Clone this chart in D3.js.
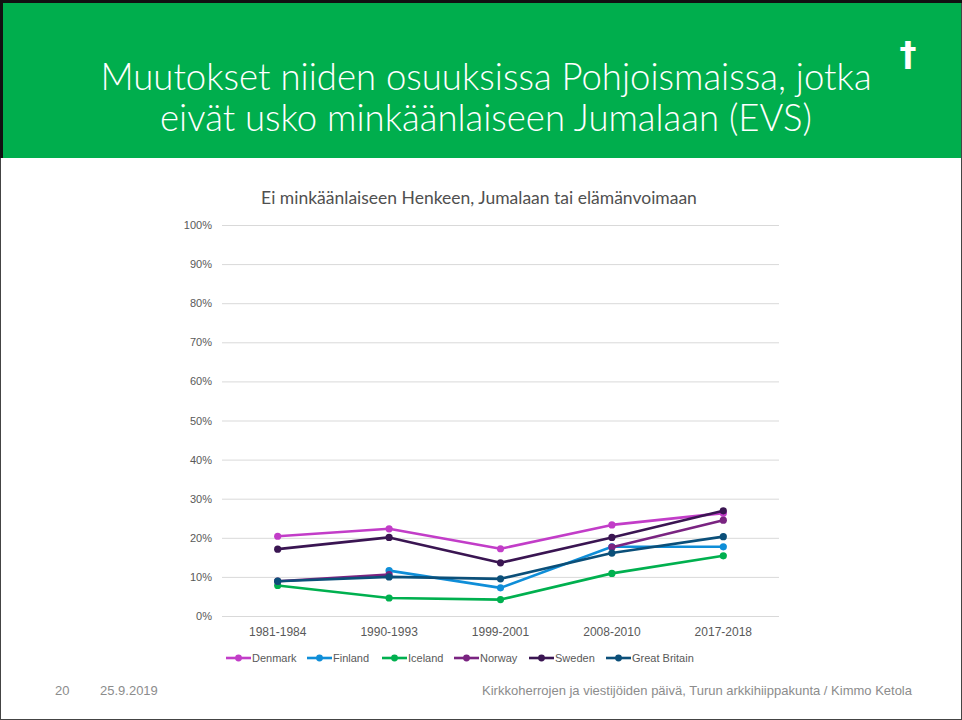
<script src="https://d3js.org/d3.v7.min.js"></script>

<style>
  body { margin: 0; background: #fff; }
  svg text { font-family: Lato, "Open Sans", sans-serif; }
</style>

<body>
<div id="vis"></div>

<script>
  // Survey waves and series values (% who believe in no God / spirit / life force)
  const waves = ['1981-1984', '1990-1993', '1999-2001', '2008-2010', '2017-2018']
  const countries = ['Denmark', 'Finland', 'Iceland', 'Norway', 'Sweden', 'Great Britain']
  const denmark = [20.4, 22.3, 17.2, 23.3, 26.3]
  const finland = [null, 11.6, 7.2, 17.7, 17.7]
  const iceland = [7.8, 4.6, 4.2, 10.9, 15.4]
  const norway = [8.9, 10.6, null, 17.6, 24.5]
  const sweden = [17.1, 20.1, 13.6, 20.1, 26.9]
  const britain = [8.9, 10.0, 9.5, 16.1, 20.3]
  const colors = ['#c23dc8', '#0f8ed8', '#00b04f', '#7a2481', '#3a1552', '#0b4f79']
  const yTicks = [0, 10, 20, 30, 40, 50, 60, 70, 80, 90, 100]

  const allSeries = [denmark, finland, iceland, norway, sweden, britain]

  const W = 962, H = 720
  const svg = d3.select('#vis').append('svg')
    .attr('width', W)
    .attr('height', H)

  // slide frame
  svg.append('rect')
    .attr('x', 0.5).attr('y', 0.5)
    .attr('width', W - 1).attr('height', H - 1)
    .attr('fill', '#fff')
    .attr('stroke', '#444')

  // green header
  svg.append('rect')
    .attr('x', 3).attr('y', 3)
    .attr('width', W - 4).attr('height', 155)
    .attr('fill', '#00ae4d')
  svg.append('line')
    .attr('x1', 0).attr('x2', W).attr('y1', 1.5).attr('y2', 1.5)
    .attr('stroke', '#111').attr('stroke-width', 3)
  svg.append('line')
    .attr('x1', 1.5).attr('x2', 1.5).attr('y1', 0).attr('y2', 158)
    .attr('stroke', '#111').attr('stroke-width', 3)

  const titleLines = ['Muutokset niiden osuuksissa Pohjoismaissa, jotka', 'eivät usko minkäänlaiseen Jumalaan (EVS)']
  svg.selectAll('.title')
    .data(titleLines)
    .enter()
    .append('text')
    .attr('class', 'title')
    .attr('x', 486)
    .attr('y', function(d, i) { return 90 + i * 41 })
    .attr('text-anchor', 'middle')
    .attr('fill', '#fff')
    .style('font-size', '36.5px')
    .style('font-weight', 300)
    .text(function(d) { return d })

  // cross
  svg.append('text')
    .attr('x', 908).attr('y', 66)
    .attr('text-anchor', 'middle')
    .attr('fill', '#fff')
    .style('font-size', '34px')
    .style('font-weight', 'bold')
    .style('font-family', 'DejaVu Sans')
    .text('\u2020')

  // chart
  const margin = {left: 222, right: 779, top: 225, bottom: 616}
  const x = d3.scaleBand().domain(waves).range([margin.left, margin.right])
  const y = d3.scaleLinear().domain([0, 100]).range([margin.bottom, margin.top])

  svg.append('text')
    .attr('x', 479).attr('y', 204)
    .attr('text-anchor', 'middle')
    .attr('fill', '#505050')
    .style('font-size', '17.5px')
    .text('Ei minkäänlaiseen Henkeen, Jumalaan tai elämänvoimaan')

  const yAxis = svg.append('g')
    .attr('transform', 'translate(' + margin.left + ',0)')
    .call(d3.axisLeft(y).tickValues(yTicks).tickSize(-(margin.right - margin.left)).tickFormat(function(d) { return d + '%' }))
  yAxis.select('.domain').remove()
  yAxis.selectAll('line').attr('stroke', '#d9d9d9')
  yAxis.selectAll('text')
    .attr('x', -10)
    .attr('fill', '#595959')
    .style('font-family', '"Liberation Sans Narrow", sans-serif')
    .style('font-size', '11px')

  const xAxis = svg.append('g')
    .attr('transform', 'translate(0,' + margin.bottom + ')')
    .call(d3.axisBottom(x).tickSize(0).tickPadding(11))
  xAxis.select('.domain').remove()
  xAxis.selectAll('text')
    .attr('fill', '#595959')
    .style('font-family', '"Liberation Sans Narrow", sans-serif')
    .style('font-size', '12px')

  const line = d3.line()
    .defined(function(d) { return d !== null })
    .x(function(d, i) { return x(waves[i]) + x.bandwidth() / 2 })
    .y(function(d) { return y(d) })

  allSeries.forEach(function(vals, k) {
    svg.append('path')
      .datum(vals)
      .attr('d', line)
      .attr('fill', 'none')
      .attr('stroke', colors[k])
      .attr('stroke-width', 2.6)
      .attr('stroke-linejoin', 'round')

    svg.selectAll('.dot' + k)
      .data(vals.map(function(v, i) { return {v: v, i: i} }).filter(function(d) { return d.v !== null }))
      .enter()
      .append('circle')
      .attr('cx', function(d) { return x(waves[d.i]) + x.bandwidth() / 2 })
      .attr('cy', function(d) { return y(d.v) })
      .attr('r', 3.6)
      .attr('fill', colors[k])
  })

  // legend
  const legendX = [226, 307, 382, 454, 529, 606]
  countries.forEach(function(c, k) {
    const g = svg.append('g').attr('transform', 'translate(' + legendX[k] + ',658)')
    g.append('line').attr('x1', 0).attr('x2', 25).attr('stroke', colors[k]).attr('stroke-width', 2.6)
    g.append('circle').attr('cx', 12.5).attr('r', 3.4).attr('fill', colors[k])
    g.append('text')
      .attr('x', 26).attr('y', 4)
      .attr('fill', '#595959')
      .style('font-family', '"Liberation Sans Narrow", sans-serif')
      .style('font-size', '11px')
      .text(c)
  })

  // footer
  const footStyle = function(sel) {
    sel.attr('fill', '#8c8c8c')
      .style('font-family', '"Liberation Sans Narrow", sans-serif')
      .style('font-size', '13px')
  }
  svg.append('text').attr('x', 55).attr('y', 695).text('20').call(footStyle)
  svg.append('text').attr('x', 100).attr('y', 695).text('25.9.2019').call(footStyle)
  svg.append('text').attr('x', 912).attr('y', 695).attr('text-anchor', 'end')
    .text('Kirkkoherrojen ja viestijöiden päivä, Turun arkkihiippakunta / Kimmo Ketola').call(footStyle)
</script>
</body>
